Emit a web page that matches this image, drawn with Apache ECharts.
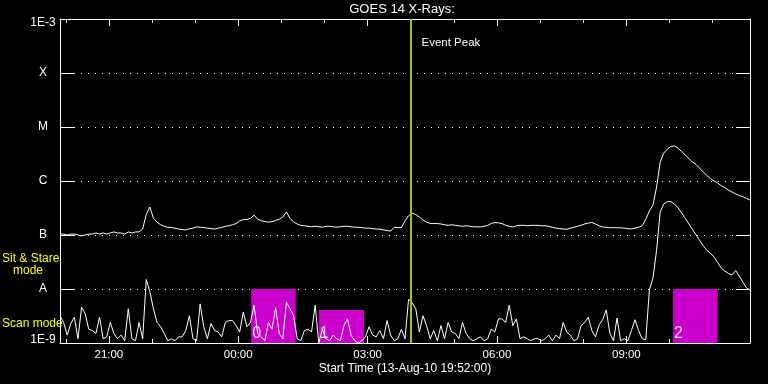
<!DOCTYPE html>
<html><head><meta charset="utf-8">
<script src="https://cdn.jsdelivr.net/npm/echarts@6/dist/echarts.min.js"></script>
<style>html,body{margin:0;padding:0;background:#000;}#c{width:768px;height:384px;}</style>
</head><body><div id="c"></div>
<script>
// Time axis: minutes after 19:00 on 13-Aug-10; samples every 5 minutes from 19:52
const startMinute = 52;
const stepMinutes = 5;
const endMinute = 1012;
// GOES 14 long channel (1-8 A), units of 1E-9 W/m^2
const long_nW = [
104,104,100,104,104,100,96,100,104,104,
109,104,109,104,109,114,109,109,104,114,
109,114,114,129,240,330,204,173,155,145,
139,137,134,129,126,124,131,134,141,139,
137,134,131,129,134,138,145,148,155,163,
182,193,193,204,233,196,185,177,173,177,
185,196,215,267,204,173,160,151,148,145,
142,145,142,139,145,145,142,139,142,145,
145,142,139,139,137,134,134,131,129,128,
124,121,118,139,137,137,182,228,253,239,
215,189,173,164,163,163,160,155,151,155,
151,148,145,148,145,142,142,141,145,151,
163,170,168,163,151,145,141,148,151,151,
148,151,151,151,148,148,145,139,134,131,
129,128,134,139,145,151,160,166,171,160,
148,141,139,136,137,136,136,134,131,130,
134,139,148,196,278,359,770,2230,3290,3900,
4370,4450,4035,3510,3030,2600,2230,2020,1720,1460,
1270,1110,1000,920,815,755,680,625,575,540,
512,475,445
];
// GOES 14 short channel (0.5-4 A), units of 1E-9 W/m^2
const short_nW = [
3.2,2.4,1.4,2.3,3.0,1.2,4.6,3.5,1.8,1.7,
1.5,3.0,1.2,1.3,2.4,1.5,1.2,1.4,1.1,4.3,
1.2,1.1,2.4,1.2,15,9,4.3,2.4,2.0,1.5,
1.1,1.2,1.1,1.3,1.3,1.7,3.2,1.2,1.1,5.3,
2.0,1.2,2.3,1.7,1.6,1.3,2.4,2.6,2.6,
2.1,1.6,3.75,2.0,2.4,5.0,1.5,1.3,1.1,2.4,
1.8,4.5,1.5,1.2,5.7,4.3,3.2,1.2,1.1,1.7,
1.8,1.6,5.0,1.0,1.8,1.2,1.1,1.4,1.2,1.1,
2.1,2.8,1.4,1.1,1.0,1.1,1.3,2.0,1.4,1.3,
1.7,1.2,2.6,1.4,1.1,1.2,1.8,1.2,6.5,
5.5,4.3,1.6,3.2,2.1,1.2,1.7,1.1,2.1,1.2,
2.4,1.6,1.5,1.2,2.4,1.5,1.2,1.1,1.2,1.3,
1.1,1.2,1.8,1.6,2.8,2.8,2.4,5.0,2.1,2.8,
1.2,1.3,1.2,1.1,1.2,1.2,1.1,1.2,1.4,1.1,
1.4,1.2,2.4,1.6,1.4,1.1,1.2,2.1,2.4,
3.0,1.7,1.3,2.15,2.7,4.1,1.5,1.1,2.9,1.1,
1.2,1.1,1.7,2.7,1.7,1.2,1.15,
9.6,16,52,267,375,414,414,375,316,255,
202,160,126,100,79,63,52,46,39,31,
24.5,21.5,19.4,18.2,22,17.4,13.5,10.5,9.6
];
const yDecadeLabels = ['1E-9','A','B','C','M','X','1E-3'];
const majorTicks = [120,300,480,660,840];
const majorLabels = ['21:00','00:00','03:00','06:00','09:00'];
const minorTicks = [60,180,240,360,420,540,600,720,780,900,960];
const eventPeakMinute = 540;
const modeBoxNames = ['0','1','2'];
const modeBoxStart = [318,412,905];
const modeBoxEnd = [380,475,967];
const modeBoxTop = [10,4.1,10];
const titleText = 'GOES 14 X-Rays:';
const xTitleText = 'Start Time (13-Aug-10 19:52:00)';
const eventText = 'Event Peak';

const FONT = 'Liberation Sans, Arial, sans-serif';
const xs = long_nW.map((_, i) => startMinute + i * stepMinutes);
const white = '#ffffff';

function xAx(pos, ticks, len, showLine, showLabel) {
  return {
    type: 'value', min: startMinute, max: endMinute, position: pos,
    axisLine: { show: showLine, onZero: false, lineStyle: { color: white, width: 1 } },
    axisTick: { show: true, inside: true, length: len, customValues: ticks, lineStyle: { color: white, width: 1 } },
    axisLabel: showLabel ? {
      show: true, customValues: ticks, color: white, fontSize: 11.5, fontFamily: FONT, margin: 6,
      formatter: v => majorLabels[majorTicks.indexOf(Math.round(v))] || ''
    } : { show: false },
    splitLine: { show: false }
  };
}
const richBase = { color: white, fontSize: 12, fontFamily: FONT, width: 28, align: 'center' };

const chart = echarts.init(document.getElementById('c'), null, { renderer: 'canvas' });
chart.setOption({
  backgroundColor: '#000000',
  animation: false,
  grid: { left: 60, right: 18, top: 19, bottom: 41 },
  xAxis: [
    xAx('bottom', majorTicks, 7, true, true),
    xAx('bottom', minorTicks, 4, false, false),
    xAx('top', majorTicks, 7, true, false),
    xAx('top', minorTicks, 4, false, false)
  ],
  yAxis: [
    {
      type: 'log', logBase: 10, min: 1, max: 1e6, position: 'left',
      axisLine: { show: true, onZero: false, lineStyle: { color: white, width: 1 } },
      axisTick: { show: true, inside: true, length: 14, lineStyle: { color: white, width: 1 } },
      minorTick: { show: false },
      axisLabel: {
        color: white, fontSize: 12, fontFamily: FONT, margin: 3,
        formatter: v => {
          const k = Math.round(Math.log10(v));
          if (k === 6) return '{t|' + yDecadeLabels[k] + '}';
          if (k === 0) return '{b|' + yDecadeLabels[k] + '}';
          return '{l|' + yDecadeLabels[k] + '}';
        },
        rich: {
          t: Object.assign({}, richBase, { padding: [8, 0, 0, 0] }),
          b: Object.assign({}, richBase, { padding: [0, 0, 6, 0] }),
          l: Object.assign({}, richBase)
        }
      },
      splitLine: { show: true, lineStyle: { color: white, width: 1, type: [1, 6] } }
    },
    {
      type: 'log', logBase: 10, min: 1, max: 1e6, position: 'right',
      axisLine: { show: true, onZero: false, lineStyle: { color: white, width: 1 } },
      axisTick: { show: true, inside: true, length: 14, lineStyle: { color: white, width: 1 } },
      minorTick: { show: false },
      axisLabel: { show: false },
      splitLine: { show: false }
    }
  ],
  series: [
    {
      type: 'line', data: [], z: 1, silent: true,
      markArea: {
        silent: true,
        itemStyle: { color: '#cc00cc', opacity: 1 },
        label: { show: true, position: 'insideBottomLeft', distance: 1, color: '#ffd6ff', fontSize: 16, fontFamily: FONT },
        data: modeBoxNames.map((n, i) => [
          { name: n, coord: [modeBoxStart[i], 1] },
          { coord: [modeBoxEnd[i], modeBoxTop[i]] }
        ])
      }
    },
    {
      type: 'line', data: xs.map((x, i) => [x, long_nW[i]]), showSymbol: false, symbol: 'none',
      lineStyle: { color: white, width: 1 }, z: 3, silent: true
    },
    {
      type: 'line', data: xs.map((x, i) => [x, short_nW[i]]), showSymbol: false, symbol: 'none',
      lineStyle: { color: white, width: 1 }, z: 3, silent: true
    },
    {
      type: 'line', data: [], z: 5, silent: true,
      markLine: {
        silent: true, symbol: ['none', 'none'], label: { show: false },
        lineStyle: { color: '#9acd00', width: 2, type: 'solid' },
        data: [{ xAxis: eventPeakMinute }]
      }
    }
  ],
  graphic: [
    { type: 'text', x: 402, y: 9, style: { text: titleText, fill: white, fontSize: 13, fontFamily: FONT, align: 'center', verticalAlign: 'middle' } },
    { type: 'text', x: 405, y: 368.5, style: { text: xTitleText, fill: white, fontSize: 12, fontFamily: FONT, align: 'center', verticalAlign: 'middle' } },
    { type: 'text', x: 421.5, y: 43, style: { text: eventText, fill: white, fontSize: 11.5, fontFamily: FONT, align: 'left', verticalAlign: 'middle' } },
    { type: 'text', x: 2, y: 259, style: { text: 'Sit & Stare', fill: '#ffff00', fontSize: 12, fontFamily: FONT, align: 'left', verticalAlign: 'middle' } },
    { type: 'text', x: 13, y: 271, style: { text: 'mode', fill: '#ffff00', fontSize: 12, fontFamily: FONT, align: 'left', verticalAlign: 'middle' } },
    { type: 'text', x: 2, y: 323.5, style: { text: 'Scan mode', fill: '#ffff00', fontSize: 12, fontFamily: FONT, align: 'left', verticalAlign: 'middle' } }
  ]
});
</script></body></html>
